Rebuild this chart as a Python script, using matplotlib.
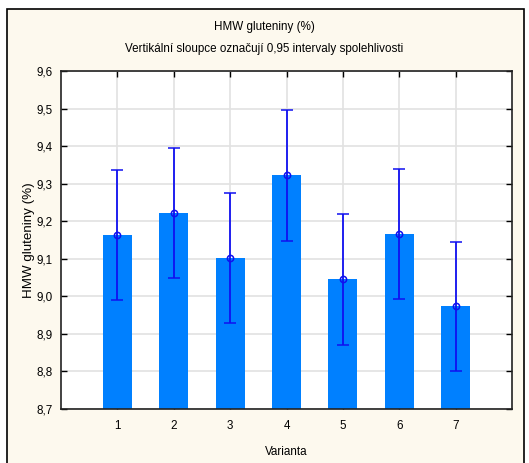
import matplotlib
matplotlib.use("Agg")
import matplotlib.pyplot as plt
from matplotlib.patches import Rectangle
from matplotlib.ticker import FuncFormatter

variants = [1, 2, 3, 4, 5, 6, 7]
means = [9.163, 9.223, 9.102, 9.322, 9.045, 9.166, 8.973]
ci_low = [8.989, 9.049, 8.929, 9.148, 8.871, 8.993, 8.800]
ci_high = [9.336, 9.396, 9.275, 9.496, 9.218, 9.340, 9.146]
y_ticks = [8.7, 8.8, 8.9, 9.0, 9.1, 9.2, 9.3, 9.4, 9.5, 9.6]

plt.rcParams["font.family"] = ["Liberation Sans", "DejaVu Sans"]
plt.rcParams["font.size"] = 8.4

fig = plt.figure(figsize=(5.29, 4.63), dpi=100)
fig.patch.set_facecolor("white")
frame = Rectangle((7 / 529, -0.02), 517 / 529, 1 - 9 / 463 + 0.02,
                  transform=fig.transFigure, facecolor="#FDF9EE",
                  edgecolor="black", linewidth=1.2, zorder=-5)
fig.add_artist(frame)

ax = fig.add_axes([61 / 529, 54 / 463, 451 / 529, 338 / 463])
ax.set_zorder(1)
ax.set_facecolor("white")
ax.bar(variants, [m - 8.7 for m in means], bottom=8.7, width=0.51,
       color="#0080FF", zorder=2)
yerr = [[m - lo for m, lo in zip(means, ci_low)], [hi - m for m, hi in zip(means, ci_high)]]
ax.errorbar(variants, means, yerr=yerr, fmt="o", color="#1010F0", mfc="none",
            ms=4.5, mew=1.1, elinewidth=1.3, capsize=4, capthick=1.3, zorder=3)

ax.set_xlim(0, 8)
ax.set_ylim(8.7, 9.6)
ax.set_xticks(variants)
ax.set_yticks(y_ticks)
ax.yaxis.set_major_formatter(FuncFormatter(lambda v, p: f"{v:.1f}".replace(".", ",")))
ax.grid(True, color="#E2E2E2", linewidth=1.2, zorder=0)
ax.set_axisbelow(True)
ax.tick_params(direction="in", top=True, right=True, length=4, width=1, pad=6)
ax.tick_params(axis="x", pad=8)
for s in ax.spines.values():
    s.set_linewidth(1.2)
    s.set_color("#222222")

ax.set_xlabel("Varianta", labelpad=10)
ax.set_ylabel("HMW gluteniny (%)", fontsize=9.6, labelpad=1)
fig.text(0.5, 1 - 27 / 463, "HMW gluteniny (%)", ha="center", va="center")
fig.text(0.5, 1 - 49 / 463, "Vertikální sloupce označují 0,95 intervaly spolehlivosti",
         ha="center", va="center")

fig.savefig("out.png", dpi=100)
